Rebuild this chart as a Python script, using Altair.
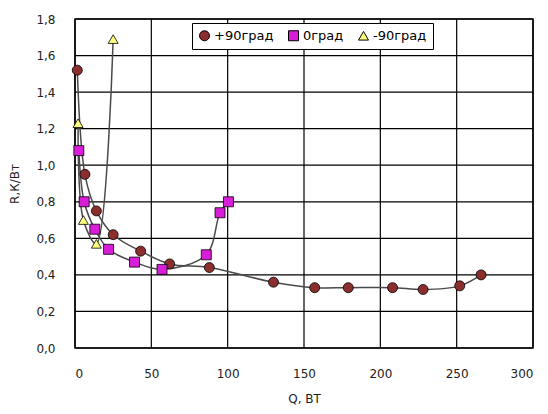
import altair as alt
import pandas as pd

# Thermal resistance R (K/W) vs heat load Q (W) for three orientations
series_names = ["+90град", "0град", "-90град"]

q_p90 = [1.5, 6.5, 14, 25, 43, 62, 88, 130, 157, 179, 208, 228, 252, 266]
r_p90 = [1.52, 0.95, 0.75, 0.62, 0.53, 0.46, 0.44, 0.36, 0.33, 0.33, 0.33, 0.32, 0.34, 0.40]

q_0 = [2.5, 6, 13, 22, 39, 57, 86, 95, 100.5]
r_0 = [1.08, 0.80, 0.65, 0.54, 0.47, 0.43, 0.51, 0.74, 0.80]

q_m90 = [2, 5.5, 14, 25]
r_m90 = [1.23, 0.70, 0.57, 1.69]

x_ticks = [0, 50, 100, 150, 200, 250, 300]
y_ticks = [0, 0.2, 0.4, 0.6, 0.8, 1.0, 1.2, 1.4, 1.6, 1.8]

fills = ["#8B2E2E", "#D81ED8", "#FFFF80"]
shapes = ["circle", "square", "triangle-up"]

rows = []
for name, qs, rs in zip(series_names, [q_p90, q_0, q_m90], [r_p90, r_0, r_m90]):
    for i, (q, r) in enumerate(zip(qs, rs)):
        rows.append({"series": name, "Q": q, "R": r, "idx": i})
df = pd.DataFrame(rows)

FONT = "DejaVu Sans"

x_scale = alt.Scale(domain=[0, 300], nice=False, zero=True)
y_scale = alt.Scale(domain=[0, 1.8], nice=False, zero=True)

x_enc = alt.X(
    "Q:Q", scale=x_scale,
    axis=alt.Axis(
        title="Q, ВТ", values=x_ticks, labelOverlap=False,
        labelPadding=20, titlePadding=14, ticks=False, domain=False, grid=False,
    ),
)
y_enc = alt.Y(
    "R:Q", scale=y_scale,
    axis=alt.Axis(
        title="R,К/Вт", values=y_ticks, labelOverlap=False,
        labelExpr="replace(format(datum.value, '.1f'), '.', ',')",
        labelPadding=20, titlePadding=14, ticks=False, domain=False, grid=False,
    ),
)

# gridlines at every labelled tick
vgrid = alt.Chart(pd.DataFrame({"Q": x_ticks})).mark_rule(
    color="black", strokeWidth=1.2
).encode(x=x_enc)
hgrid = alt.Chart(pd.DataFrame({"R": y_ticks})).mark_rule(
    color="black", strokeWidth=1.2
).encode(y=y_enc)

lines = alt.Chart(df).mark_line(
    interpolate="catmull-rom", color="#4a4a4a", strokeWidth=1.5
).encode(
    x=x_enc, y=y_enc, detail="series:N", order="idx:Q"
)

legend = alt.Legend(
    title=None, orient="none", legendX=117, legendY=4, direction="horizontal",
    strokeColor="black", fillColor="white", padding=6, labelFontSize=13,
    labelFont=FONT, labelColor="black", symbolSize=100, columnPadding=12,
    symbolStrokeWidth=1, labelOffset=3,
)

points = alt.Chart(df).mark_point(
    filled=True, size=100, strokeWidth=0.8, opacity=1
).encode(
    x=x_enc, y=y_enc,
    fill=alt.Fill("series:N", sort=series_names,
                  scale=alt.Scale(domain=series_names, range=fills), legend=legend),
    shape=alt.Shape("series:N", sort=series_names,
                    scale=alt.Scale(domain=series_names, range=shapes), legend=legend),
    stroke=alt.Stroke("series:N", sort=series_names,
                      scale=alt.Scale(domain=series_names, range=["black"] * 3), legend=legend),
)

chart = (
    alt.layer(vgrid, hgrid, lines, points)
    .properties(
        width=458, height=329,
        padding={"left": 75, "top": 19, "right": 15, "bottom": 66},
        autosize=alt.AutoSizeParams(type="none"),
        background="white",
    )
    .configure_view(stroke="black", strokeWidth=1.5)
    .configure_axis(
        labelFont=FONT, titleFont=FONT, labelFontSize=12, titleFontSize=12,
        labelColor="#222222", titleColor="#222222", titleFontWeight="normal",
    )
)

chart.save("out.html", embed_options={"renderer": "svg", "actions": False})
